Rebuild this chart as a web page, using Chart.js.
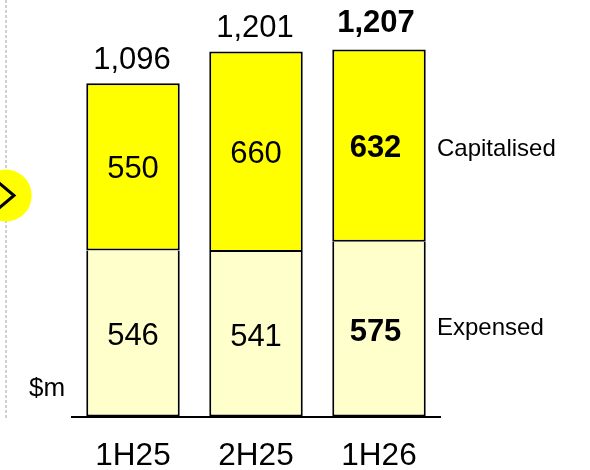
<!DOCTYPE html>
<html>
<head>
<meta charset="utf-8">
<title>Spend by half</title>
<script src="https://cdn.jsdelivr.net/npm/chart.js@4"></script>
<style>
    html, body { margin: 0; padding: 0; background: #fff; }
    canvas { display: block; }
</style>
</head>
<body>
<canvas id="chart" width="590" height="470"></canvas>
<script>
// Values
const periods = ['1H25', '2H25', '1H26'];
const expensed = [546, 541, 575];
const capitalised = [550, 660, 632];
const totals = [1096, 1201, 1207];
const seriesNames = ['Expensed', 'Capitalised'];
const unitLabel = '$m';

const FONT = '"Liberation Sans", Arial, sans-serif';
const boldPeriod = 2; // last period is printed in bold

// Dotted rule and yellow chevron badge on the left edge
const badgePlugin = {
    id: 'badge',
    beforeDraw(chart) {
        const ctx = chart.ctx;
        ctx.save();
        ctx.strokeStyle = '#d0d0d0';
        ctx.lineWidth = 2;
        ctx.setLineDash([3, 2]);
        ctx.beginPath();
        ctx.moveTo(6, 0);
        ctx.lineTo(6, 420);
        ctx.stroke();
        ctx.setLineDash([]);
        ctx.fillStyle = '#ffff00';
        ctx.beginPath();
        ctx.arc(5.7, 195.5, 26, 0, Math.PI * 2);
        ctx.fill();
        ctx.strokeStyle = '#000';
        ctx.lineWidth = 3;
        ctx.beginPath();
        ctx.moveTo(-2, 182);
        ctx.lineTo(14, 195.5);
        ctx.lineTo(-2, 209);
        ctx.stroke();
        ctx.restore();
    }
};

// Segment values, totals, series names and the unit
const labelPlugin = {
    id: 'labels',
    afterDatasetsDraw(chart) {
        const ctx = chart.ctx;
        ctx.save();
        ctx.fillStyle = '#000';
        ctx.textBaseline = 'middle';
        ctx.textAlign = 'center';

        chart.data.datasets.forEach((dataset, d) => {
            chart.getDatasetMeta(d).data.forEach((bar, i) => {
                const bold = i === boldPeriod;
                ctx.font = (bold ? 'bold ' : '') + '31px ' + FONT;
                ctx.fillText(String(dataset.data[i]), bar.x - (bold ? 3.5 : 0), (bar.y + bar.base) / 2 + 3);
            });
        });

        chart.getDatasetMeta(1).data.forEach((bar, i) => {
            const bold = i === boldPeriod;
            ctx.font = (bold ? 'bold ' : '') + '31px ' + FONT;
            ctx.fillText(totals[i].toLocaleString('en-US'), bar.x - (bold ? 3 : 1), bar.y - (bold ? 26 : 23));
        });

        ctx.textAlign = 'left';
        ctx.font = '24px ' + FONT;
        const seriesNudge = [-1, 4];
        seriesNames.forEach((name, d) => {
            const bar = chart.getDatasetMeta(d).data[boldPeriod];
            ctx.fillText(name, chart.chartArea.right - 3.5, (bar.y + bar.base) / 2 + seriesNudge[d]);
        });
        ctx.font = '26px ' + FONT;
        ctx.fillText(unitLabel, 29, chart.chartArea.bottom - 28);
        ctx.restore();
    }
};

new Chart(document.getElementById('chart'), {
    type: 'bar',
    data: {
        labels: periods,
        datasets: [
            {
                label: seriesNames[0],
                data: expensed,
                backgroundColor: '#ffffcc',
                borderColor: '#000',
                borderWidth: 2,
                borderSkipped: 'top' // seam line comes from the segment above
            },
            {
                label: seriesNames[1],
                data: capitalised,
                backgroundColor: '#ffff00',
                borderColor: '#000',
                borderWidth: 2,
                borderSkipped: false
            }
        ]
    },
    options: {
        responsive: false,
        animation: false,
        layout: { padding: { left: 71.5, right: 149.5, top: 0, bottom: 0 } },
        datasets: { bar: { barPercentage: 0.76, categoryPercentage: 1 } },
        plugins: { legend: { display: false }, tooltip: { enabled: false } },
        scales: {
            x: {
                stacked: true,
                afterFit(scale) { scale.height = 53.5; },
                grid: { display: false, drawTicks: false },
                border: { color: '#000', width: 2 },
                ticks: {
                    color: '#000',
                    padding: 21,
                    font: { family: FONT, size: 31.5 }
                }
            },
            y: { stacked: true, display: false, min: 0, max: 1370 }
        }
    },
    plugins: [badgePlugin, labelPlugin]
});
</script>
</body>
</html>
